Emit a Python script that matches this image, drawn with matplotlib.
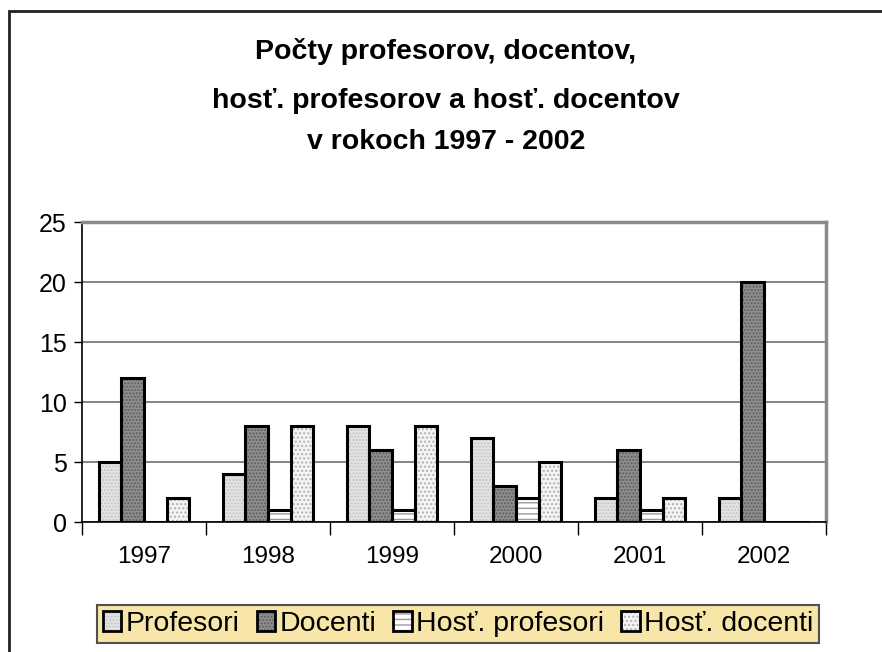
import matplotlib
matplotlib.use("Agg")
import matplotlib.pyplot as plt
import numpy as np
from matplotlib.patches import Rectangle, Patch
from matplotlib.legend_handler import HandlerTuple

plt.rcParams['font.family'] = ['Liberation Sans', 'DejaVu Sans']
plt.rcParams['hatch.linewidth'] = 1.0

years = ['1997', '1998', '1999', '2000', '2001', '2002']
series = ['Profesori', 'Docenti', 'Hosť. profesori', 'Hosť. docenti']
profesori = [5, 4, 8, 7, 2, 2]
docenti = [12, 8, 6, 3, 6, 20]
host_profesori = [0, 1, 1, 2, 1, 0]
host_docenti = [2, 8, 8, 5, 2, 0]
values = [profesori, docenti, host_profesori, host_docenti]

faces = ['#E4E4E4', '#8E8E8E', '#FFFFFF', '#F4F4F4']
hatch_cols = ['#C4C4C4', '#5E5E5E', '#9A9A9A', '#B0B0B0']
hatches = ['.....', '.....', '---', '....']

fig = plt.figure(figsize=(8.82, 6.52), dpi=100)
ax = fig.add_axes([82/882, 1-522/652, (826-82)/882, 300/652])

x = np.arange(len(years))
w = 1/5.5
handles = []
for i, (vals, fc, hc, h) in enumerate(zip(values, faces, hatch_cols, hatches)):
    off = (i - 1.5) * w
    ax.bar(x + off, vals, w, facecolor=fc, edgecolor=hc, hatch=h, linewidth=0, zorder=3)
    ax.bar(x + off, vals, w, facecolor='none', edgecolor='black', linewidth=2.2, zorder=4)
    p1 = Patch(facecolor=fc, edgecolor=hc, hatch=h, linewidth=0)
    p2 = Patch(facecolor='none', edgecolor='black', linewidth=2.0)
    handles.append((p1, p2))

ax.set_xlim(-0.5, len(years) - 0.5)
ax.set_ylim(0, 25)
ax.set_yticks([0, 5, 10, 15, 20, 25])
ax.set_xticks(x)
ax.set_xticklabels(years)
ax.set_xticks(np.arange(-0.5, len(years), 1), minor=True)
ax.tick_params(axis='x', which='major', length=0, pad=17, labelsize=17.5)
ax.tick_params(axis='x', which='minor', length=9, width=1, direction='out')
ax.tick_params(axis='y', length=6, width=1, direction='out', pad=5, labelsize=18)
ax.yaxis.grid(True, color='#707070', linewidth=1.2, zorder=0)
ax.set_axisbelow(True)
for s in ['left', 'bottom']:
    ax.spines[s].set_color('black')
    ax.spines[s].set_linewidth(1.2)
for s in ['top', 'right']:
    ax.spines[s].set_color('#8A8A8A')
    ax.spines[s].set_linewidth(2.5)
ax.spines['bottom'].set_zorder(5)

title_lines = ['Počty profesorov, docentov,',
               'hosť. profesorov a hosť. docentov',
               'v rokoch 1997 - 2002']
for line, yb in zip(title_lines, [59, 108, 149]):
    fig.text(446/882, 1-yb/652, line, ha='center', va='baseline',
             fontsize=20.5, fontweight='bold')

leg = fig.legend(handles, series, handler_map={tuple: HandlerTuple(ndivide=1)},
                 loc='center', bbox_to_anchor=(458/882, 1-624/652), ncol=4,
                 frameon=True, fancybox=False, fontsize=20.5,
                 handlelength=0.65, handleheight=0.65, handletextpad=0.15,
                 columnspacing=0.6, borderpad=0.2, borderaxespad=0)
leg.get_frame().set_facecolor('#F8E6A8')
leg.get_frame().set_edgecolor('#505050')
leg.get_frame().set_linewidth(1.5)
leg.get_frame().set_alpha(1)

frame = Rectangle((9/882, -0.1), 1.2, 1 - 11/652 + 0.1, transform=fig.transFigure,
                  fill=False, edgecolor='#202020', linewidth=2, clip_on=False)
fig.add_artist(frame)

fig.savefig('out.png', dpi=100)
